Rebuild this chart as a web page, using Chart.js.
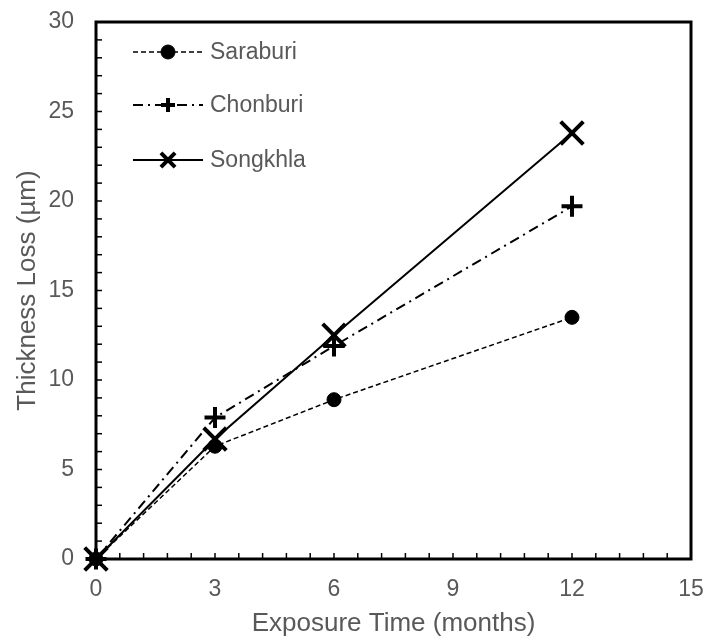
<!DOCTYPE html>
<html>
<head>
<meta charset="utf-8">
<script src="https://cdn.jsdelivr.net/npm/chart.js@4.4.1/dist/chart.umd.min.js"></script>
<style>
  html, body { margin: 0; padding: 0; background: #fff; }
  #wrap { width: 705px; height: 641px; }
</style>
</head>
<body>
<div id="wrap"><canvas id="chart1" width="705" height="641"></canvas></div>
<script>
// exposure time (months)
var months = [0, 3, 6, 12];
// thickness loss (µm)
var saraburi = [0, 6.3, 8.9, 13.5];
var chonburi = [0, 7.9, 11.9, 19.7];
var songkhla = [0, 6.7, 12.5, 23.8];

var xTicks = [0, 3, 6, 9, 12, 15];
var yTicks = [0, 5, 10, 15, 20, 25, 30];

var gray = '#595959';
var font = 'Liberation Sans, Arial, sans-serif';

function pts(ys) {
    return months.map(function (m, i) { return { x: m, y: ys[i] }; });
}

// frame, inside minor ticks and the legend box top-left
var extras = {
    id: 'extras',
    beforeDatasetsDraw: function (chart) {
        var ctx = chart.ctx, a = chart.chartArea;
        var xs = chart.scales.x, ys = chart.scales.y;
        ctx.save();
        ctx.strokeStyle = '#000';
        ctx.lineWidth = 1.5;
        var v, p;
        for (v = 0.6; v < 15; v += 0.6) {
            p = xs.getPixelForValue(v);
            ctx.beginPath(); ctx.moveTo(p, a.bottom); ctx.lineTo(p, a.bottom - 6); ctx.stroke();
        }
        for (v = 1; v < 30; v++) {
            p = ys.getPixelForValue(v);
            ctx.beginPath(); ctx.moveTo(a.left, p); ctx.lineTo(a.left + 6, p); ctx.stroke();
        }
        ctx.lineWidth = 3;
        ctx.strokeRect(a.left, a.top, a.right - a.left, a.bottom - a.top);
        ctx.restore();
    },
    afterDraw: function (chart) {
        var ctx = chart.ctx;
        var rows = [52, 105, 160];
        var legRadius = [7, 7, 10];
        ctx.save();
        chart.data.datasets.forEach(function (ds, i) {
            var y = rows[i];
            ctx.strokeStyle = '#000';
            ctx.fillStyle = '#000';
            ctx.lineWidth = ds.borderWidth;
            ctx.setLineDash(ds.borderDash || []);
            ctx.beginPath(); ctx.moveTo(133, y); ctx.lineTo(203, y); ctx.stroke();
            ctx.setLineDash([]);
            ctx.lineWidth = ds.pointBorderWidth;
            Chart.helpers.drawPoint(ctx, {
                pointStyle: ds.pointStyle,
                radius: legRadius[i],
                borderWidth: ds.pointBorderWidth,
                rotation: 0
            }, 168, y);
            ctx.fillStyle = gray;
            ctx.font = '23px ' + font;
            ctx.textBaseline = 'middle';
            ctx.fillText(ds.label, 210, y + 1);
        });
        ctx.restore();
    }
};

new Chart(document.getElementById('chart1').getContext('2d'), {
    type: 'line',
    data: {
        datasets: [{
            label: 'Saraburi',
            data: pts(saraburi),
            borderColor: '#000',
            backgroundColor: '#000',
            borderWidth: 1.5,
            borderDash: [5, 3],
            pointStyle: 'circle',
            pointRadius: 7,
            pointBorderWidth: 1,
            pointBackgroundColor: '#000',
            pointBorderColor: '#000'
        }, {
            label: 'Chonburi',
            data: pts(chonburi),
            borderColor: '#000',
            backgroundColor: '#000',
            borderWidth: 2,
            borderDash: [10, 5, 2, 5],
            pointStyle: 'cross',
            pointRadius: 10.5,
            pointBorderWidth: 4,
            pointBorderColor: '#000'
        }, {
            label: 'Songkhla',
            data: pts(songkhla),
            borderColor: '#000',
            backgroundColor: '#000',
            borderWidth: 2,
            pointStyle: 'crossRot',
            pointRadius: 16,
            pointBorderWidth: 4,
            pointBorderColor: '#000'
        }]
    },
    options: {
        responsive: false,
        animation: false,
        clip: false,
        layout: { autoPadding: false, padding: { left: 0, top: 22, right: 14, bottom: 0 } },
        plugins: { legend: { display: false }, tooltip: { enabled: false } },
        scales: {
            x: {
                type: 'linear',
                min: 0,
                max: 15,
                afterFit: function (s) { s.height = 82; s.paddingLeft = 0; s.paddingRight = 0; },
                afterBuildTicks: function (s) { s.ticks = xTicks.map(function (v) { return { value: v }; }); },
                grid: { display: false, drawTicks: false },
                border: { display: false },
                ticks: { color: gray, font: { family: font, size: 23 }, padding: 17, maxRotation: 0 },
                title: {
                    display: true,
                    text: 'Exposure Time (months)',
                    color: gray,
                    font: { family: font, size: 26 },
                    padding: { top: 0, bottom: 2 }
                }
            },
            y: {
                min: 0,
                max: 30,
                afterFit: function (s) { s.width = 96; s.paddingTop = 0; s.paddingBottom = 0; },
                afterBuildTicks: function (s) { s.ticks = yTicks.map(function (v) { return { value: v }; }); },
                grid: { display: false, drawTicks: false },
                border: { display: false },
                ticks: { color: gray, font: { family: font, size: 23 }, padding: 22 },
                title: {
                    display: true,
                    text: 'Thickness Loss (µm)',
                    color: gray,
                    font: { family: font, size: 26 },
                    padding: { top: 12, bottom: 0 }
                }
            }
        }
    },
    plugins: [extras]
});
</script>
</body>
</html>
